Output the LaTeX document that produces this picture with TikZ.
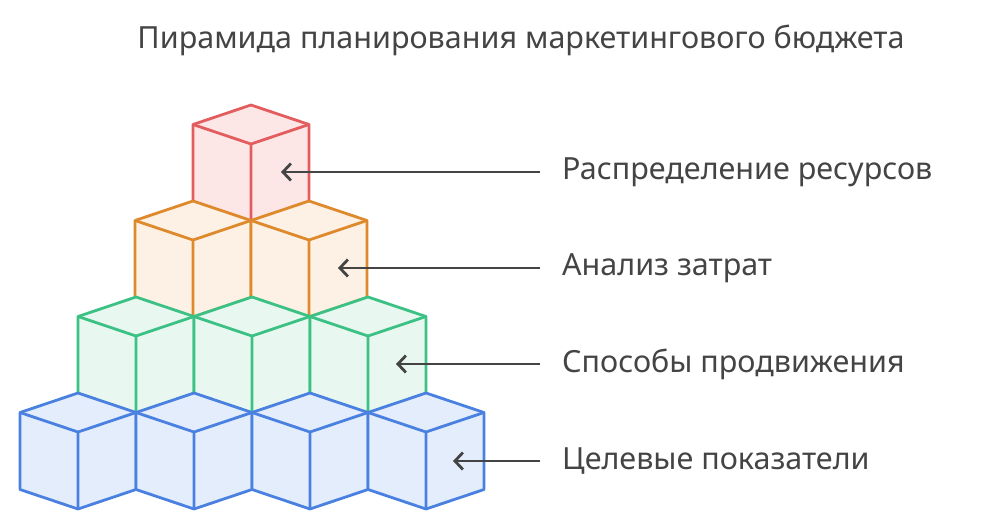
\documentclass[tikz,border=0pt]{standalone}
\usepackage{fontspec}
\setmainfont{Noto Sans}
\usetikzlibrary{arrows.meta}
\definecolor{redE}{HTML}{E35D5E}\definecolor{redF}{HTML}{FDE6E6}
\definecolor{oraE}{HTML}{DE8A2C}\definecolor{oraF}{HTML}{FDF1E5}
\definecolor{greE}{HTML}{3CC184}\definecolor{greF}{HTML}{E8F8F0}
\definecolor{bluE}{HTML}{4A80E0}\definecolor{bluF}{HTML}{E3EDFC}
\definecolor{txt}{HTML}{444444}
\tikzset{
  face/.style={line width=2.8pt, line join=round},
  lbl/.style={anchor=west, inner sep=0pt, text=txt, font=\fontsize{30.5}{36}\selectfont},
  pointer/.style={draw=txt, line width=2.8pt, -{Straight Barb[length=8pt,width=17pt]}}
}
% cube with top-left corner at (#1,#2)
\newcommand\cubeat[4]{%
  \filldraw[face, draw=#3, fill=#4] (#1,#2) -- ++(58,-19.5) -- ++(58,19.5) -- ++(0,77)
     -- ++(-58,19.5) -- ++(-58,-19.5) -- cycle;
  \draw[face, draw=#3] (#1,#2) -- ++(58,19.5) -- ++(58,-19.5) (#1+58,#2+19.5) -- ++(0,77);
}
\begin{document}
\begin{tikzpicture}[x=1pt,y=-1pt]
  \useasboundingbox (0,0) rectangle (981,530);
  \node[text=txt, font=\fontsize{30.5}{36}\selectfont] (title) at (521,40) {Пирамида планирования маркетингового бюджета};

  % pyramid, back rows first
  \cubeat{193}{124.5}{redE}{redF}
  \foreach \i in {0,1} {\cubeat{135+116*\i}{220.5}{oraE}{oraF}}
  \foreach \i in {0,1,2} {\cubeat{78+116*\i}{316.5}{greE}{greF}}
  \foreach \i in {0,1,2,3} {\cubeat{20+116*\i}{412.5}{bluE}{bluF}}

  % labels
  \node[lbl] (l1) at (562,172) {Распределение ресурсов};
  \node[lbl] (l2) at (562,268) {Анализ затрат};
  \node[lbl] (l3) at (562,364) {Способы продвижения};
  \node[lbl] (l4) at (562,461) {Целевые показатели};
  \coordinate (t1) at (281,172);
  \coordinate (t2) at (338,268);
  \coordinate (t3) at (396,364);
  \coordinate (t4) at (453,461);
  \foreach \k in {1,...,4} {\draw[pointer] ([xshift=-22pt]l\k.west) -- (t\k);}
\end{tikzpicture}
\end{document}
